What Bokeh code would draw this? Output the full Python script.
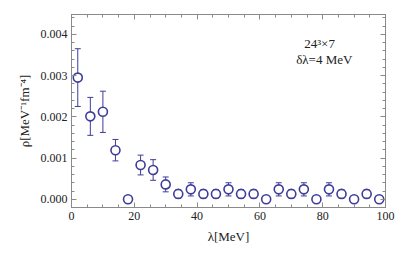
from bokeh.plotting import figure
from bokeh.models import (ColumnDataSource, Whisker, TeeHead, LinearAxis, SingleIntervalTicker,
                          PrintfTickFormatter, CustomJSTickFormatter, Range1d, Label)
from bokeh.embed import file_html
from bokeh.resources import INLINE

lam = [2, 6, 10, 14, 18, 22, 26, 30, 34, 38, 42, 46, 50, 54, 58, 62, 66, 70, 74, 78, 82, 86, 90, 94, 98]
rho = [0.00295, 0.00201, 0.00212, 0.00119, 0.0, 0.00083, 0.00071, 0.00036, 0.00013, 0.00024,
       0.00013, 0.00013, 0.00024, 0.00013, 0.00013, 0.0, 0.00024, 0.00013, 0.00024, 0.0,
       0.00024, 0.00013, 0.0, 0.00013, 0.0]
err = [0.0007, 0.00046, 0.0005, 0.00026, 0.0, 0.00024, 0.00025, 0.00018, 0.0001, 0.00016,
       0.0001, 0.0001, 0.00016, 0.0001, 0.0001, 0.0, 0.00016, 0.0001, 0.00016, 0.0,
       0.00016, 0.0001, 0.0, 0.0001, 0.0]

x_label = "λ[MeV]"
y_label = "ρ[MeV⁻¹fm⁻⁴]"
note1 = "24³×7"
note2 = "δλ=4 MeV"

BLUE = "#3d3d99"
GRAY = "#8a8a8a"
FONT = "Liberation Serif"

src = ColumnDataSource(dict(x=lam, y=rho,
                            lo=[r - e for r, e in zip(rho, err)],
                            hi=[r + e for r, e in zip(rho, err)]))

p = figure(output_backend="svg", toolbar_location=None,
           frame_width=314, frame_height=193,
           min_border_left=71, min_border_right=24, min_border_top=14, min_border_bottom=52,
           x_range=Range1d(0, 100), y_range=Range1d(-0.0002, 0.00448),
           x_axis_type=None, y_axis_type=None)
p.xgrid.visible = False
p.ygrid.visible = False
p.outline_line_color = GRAY
p.background_fill_color = "white"
p.border_fill_color = "white"

def make_axis(ticker, fmt, label, show_labels):
    ax = LinearAxis(ticker=ticker, formatter=fmt)
    ax.axis_line_color = GRAY
    ax.major_tick_line_color = GRAY
    ax.minor_tick_line_color = GRAY
    ax.major_tick_in = 5
    ax.major_tick_out = 0
    ax.minor_tick_in = 3
    ax.minor_tick_out = 0
    ax.major_label_text_font = FONT
    ax.major_label_text_font_size = "12px"
    ax.major_label_text_color = "#222222"
    ax.major_label_standoff = 4 if show_labels else 0
    if label:
        ax.axis_label = label
        ax.axis_label_text_font = FONT
        ax.axis_label_text_font_size = "13px"
        ax.axis_label_text_font_style = "normal"
        ax.axis_label_text_color = "#222222"
        ax.axis_label_standoff = 6
    return ax

blank = CustomJSTickFormatter(code="return ''")
xt = SingleIntervalTicker(interval=20, num_minor_ticks=4)
yt = SingleIntervalTicker(interval=0.001, num_minor_ticks=5)
xf = PrintfTickFormatter(format="%d")
yf = PrintfTickFormatter(format="%.3f")

p.add_layout(make_axis(xt, xf, x_label, True), "below")
p.add_layout(make_axis(yt, yf, y_label, True), "left")
p.add_layout(make_axis(SingleIntervalTicker(interval=20, num_minor_ticks=4), blank, None, False), "above")
p.add_layout(make_axis(SingleIntervalTicker(interval=0.001, num_minor_ticks=5), blank, None, False), "right")

w = Whisker(source=src, base="x", lower="lo", upper="hi", line_color=BLUE, line_width=1,
            upper_head=TeeHead(size=6, line_color=BLUE, line_width=1),
            lower_head=TeeHead(size=6, line_color=BLUE, line_width=1))
p.add_layout(w)
p.scatter("x", "y", source=src, marker="circle", size=9, fill_color="white",
          line_color=BLUE, line_width=1.6)

p.add_layout(Label(x=79, y=0.00378, text=note1,
                   text_font=FONT, text_font_size="13px", text_align="center",
                   text_baseline="middle", text_color="#222222"))
p.add_layout(Label(x=80.5, y=0.00339, text=note2,
                   text_font=FONT, text_font_size="13px", text_align="center",
                   text_baseline="middle", text_color="#222222"))

open("out.html", "w").write(file_html(p, INLINE))
